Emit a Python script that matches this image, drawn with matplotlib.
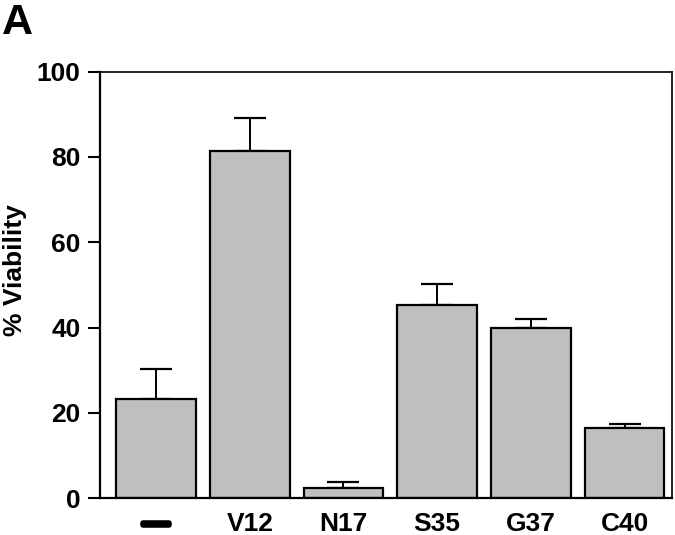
import matplotlib
matplotlib.use("Agg")
import matplotlib.pyplot as plt
import matplotlib.patheffects as pe
import numpy as np

categories = ["—", "V12", "N17", "S35", "G37", "C40"]
viability = [23.3, 81.4, 2.3, 45.4, 39.9, 16.4]
errors = [7.0, 7.8, 1.4, 4.9, 2.2, 0.9]
yticks = [0, 20, 40, 60, 80, 100]

plt.rcParams['font.family'] = ['Liberation Sans', 'DejaVu Sans']
plt.rcParams['font.weight'] = 'bold'

fig = plt.figure(figsize=(6.75, 5.35), dpi=100)
ax = fig.add_axes([0.148, 0.069, 0.848, 0.797])

x = np.arange(len(categories))
ax.bar(x, viability, width=0.85, color='#bfbfbf', edgecolor='black', linewidth=1.6, zorder=2)
ax.errorbar(x, viability, yerr=[np.zeros(len(errors)), errors], fmt='none',
            ecolor='black', elinewidth=1.4, capsize=11.5, capthick=1.6, zorder=1)

ax.set_xlim(-0.6, 5.51)
ax.set_ylim(0, 100)
ax.set_yticks(yticks)
ax.set_yticklabels([str(v) for v in yticks], fontsize=19, fontweight='bold')
ax.tick_params(axis='y', direction='out', length=9, width=1.5, pad=5)
ax.set_xticks(x)
labels = ax.set_xticklabels(categories, fontsize=19, fontweight='bold')
ax.tick_params(axis='x', length=0, pad=10)
labels[0].set_path_effects([pe.withStroke(linewidth=4, foreground='black')])

for s in ['left', 'bottom']:
    ax.spines[s].set_linewidth(1.6)
for s in ['top', 'right']:
    ax.spines[s].set_linewidth(1.2)

ax.set_ylabel('% Viability', fontsize=19, fontweight='bold', va='center')
ax.yaxis.set_label_coords(-0.148, 0.535)
fig.text(0.003, 0.995, 'A', fontsize=31, fontweight='bold', va='top', ha='left')

fig.savefig('out.png', dpi=100)
